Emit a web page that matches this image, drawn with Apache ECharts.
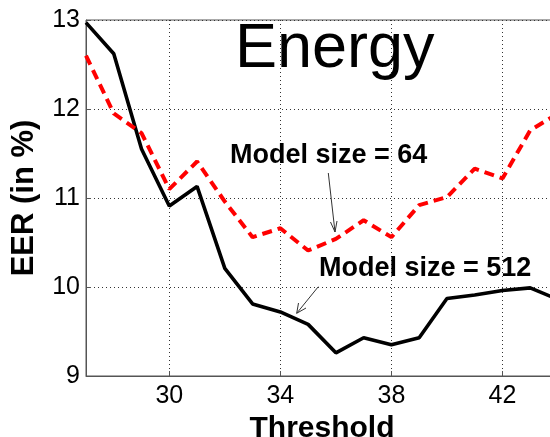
<!DOCTYPE html>
<html>
<head>
<meta charset="utf-8">
<script src="https://cdn.jsdelivr.net/npm/echarts@6/dist/echarts.min.js"></script>
<style>
html,body{margin:0;padding:0;background:#fff;}
#chart{width:550px;height:437px;}
</style>
</head>
<body>
<div id="chart"></div>
<script>
// Data
const thresholds = [27, 28, 29, 30, 31, 32, 33, 34, 35, 36, 37, 38, 39, 40, 41, 42, 43, 44];
const eer512 = [12.97, 12.62, 11.55, 10.91, 11.13, 10.21, 9.81, 9.72, 9.58, 9.26, 9.43, 9.35, 9.43, 9.87, 9.91, 9.96, 9.99, 9.86];
const eer64  = [12.60, 11.95, 11.73, 11.10, 11.41, 10.96, 10.56, 10.66, 10.41, 10.54, 10.75, 10.56, 10.92, 11.01, 11.33, 11.22, 11.76, 11.95];
const xTickValues = [30, 34, 38, 42];
const yTickValues = [9, 10, 11, 12, 13];
const titleText = 'Energy';
const xName = 'Threshold';
const yName = 'EER (in %)';
const label64 = 'Model size = 64';
const label512 = 'Model size = 512';

const FONT = 'Liberation Sans, Arial, Helvetica, sans-serif';
const pairs = (xs, ys) => xs.map((x, i) => [x, ys[i]]);

const chart = echarts.init(document.getElementById('chart'), null, {renderer: 'canvas'});

const option = {
  animation: false,
  backgroundColor: '#fff',
  grid: {
    left: 86, top: 20, bottom: 61, right: -8,
    containLabel: false, outerBoundsMode: 'none',
    show: true, borderColor: '#555', borderWidth: 1, backgroundColor: 'transparent'
  },
  xAxis: {
    type: 'value', min: 27, max: 44,
    name: xName, nameLocation: 'middle', nameGap: 36,
    nameTextStyle: {fontSize: 30, fontWeight: 'bold', color: '#000', fontFamily: FONT},
    axisLine: {show: true, lineStyle: {color: '#555', width: 1}},
    axisTick: {show: true, inside: true, length: 5, customValues: xTickValues, lineStyle: {color: '#555'}},
    axisLabel: {customValues: xTickValues, fontSize: 25, color: '#000', fontFamily: FONT, margin: 8},
    splitLine: {show: true, lineStyle: {color: '#333', width: 1, type: [1, 3]}}
  },
  yAxis: {
    type: 'value', min: 9, max: 13, interval: 1,
    name: yName, nameLocation: 'middle', nameGap: 46,
    nameTextStyle: {fontSize: 31, fontWeight: 'bold', color: '#000', fontFamily: FONT},
    axisLine: {show: true, lineStyle: {color: '#555', width: 1}},
    axisTick: {show: true, inside: true, length: 5, lineStyle: {color: '#555'}},
    axisLabel: {fontSize: 25, color: '#000', fontFamily: FONT, margin: 6},
    splitLine: {show: true, lineStyle: {color: '#333', width: 1, type: [1, 3]}}
  },
  series: [
    {
      name: label512, type: 'line', data: pairs(thresholds, eer512),
      symbol: 'none', lineStyle: {color: '#000', width: 3.6}, z: 3
    },
    {
      name: label64, type: 'line', data: pairs(thresholds, eer64),
      symbol: 'none', lineStyle: {color: '#ff0000', width: 4, type: [10, 6]}, z: 4
    }
  ],
  graphic: [
    {type: 'text', left: 235, top: 18, z: 10,
     style: {text: titleText, fontSize: 63, fontFamily: FONT, fill: '#000'}},
    {type: 'text', left: 230, top: 142, z: 10,
     style: {text: label64, fontSize: 27, fontWeight: 'bold', fontFamily: FONT, fill: '#000'}},
    {type: 'text', left: 319, top: 255, z: 10,
     style: {text: label512, fontSize: 27, fontWeight: 'bold', fontFamily: FONT, fill: '#000'}},
    // arrow for model size 64
    {type: 'line', z: 10, shape: {x1: 328.3, y1: 173, x2: 335, y2: 232}, style: {stroke: '#333', lineWidth: 1}},
    {type: 'polyline', z: 10, shape: {points: [[330.5, 222], [335, 232], [337, 221]]}, style: {stroke: '#333', lineWidth: 1, fill: null}},
    // arrow for model size 512
    {type: 'line', z: 10, shape: {x1: 318.3, y1: 286.7, x2: 296.7, y2: 313.3}, style: {stroke: '#333', lineWidth: 1}},
    {type: 'polyline', z: 10, shape: {points: [[298.5, 303], [296.7, 313.3], [306, 308]]}, style: {stroke: '#333', lineWidth: 1, fill: null}}
  ]
};
chart.setOption(option);
</script>
</body>
</html>
